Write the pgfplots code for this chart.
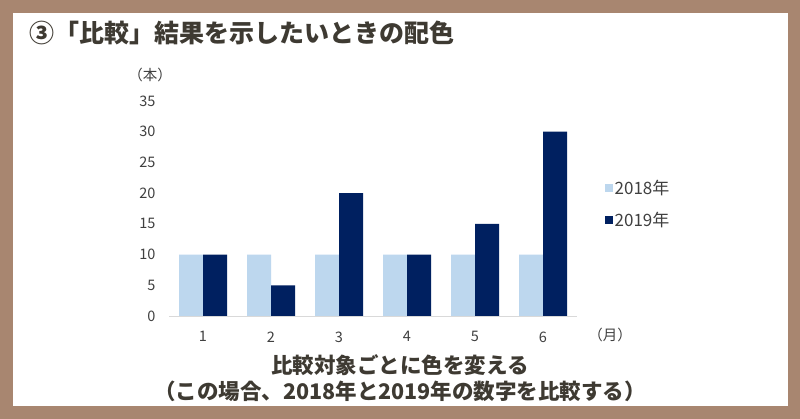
\documentclass[border=0pt]{standalone}
\usepackage{fontspec}
\setmainfont{Noto Sans CJK JP}
\usepackage{pgfplots}
\pgfplotsset{compat=1.18}
\definecolor{framec}{RGB}{168,134,112}
\definecolor{lightb}{RGB}{189,215,238}
\definecolor{navy}{RGB}{0,32,96}
\definecolor{titlec}{RGB}{62,58,50}
\definecolor{tickc}{RGB}{64,64,64}
\begin{document}
\begin{tikzpicture}[x=1pt,y=1pt]
\fill[framec] (0,0) rectangle (800,419);
\fill[white] (13,13) rectangle (788,406);
\node[anchor=west, font=\bfseries\fontsize{25}{29}\selectfont, text=titlec, inner sep=0] at (29,386) {③「比較」結果を示したいときの配色};
\begin{axis}[
  at={(169pt,103pt)}, anchor=south west, scale only axis,
  width=408pt, height=215pt,
  xmin=0.5, xmax=6.5, ymin=0, ymax=35,
  ybar=0pt, bar width=24pt,
  axis lines=left,
  x axis line style={-, draw=black!15, line width=0.8pt},
  y axis line style={draw=none},
  xtick={1,2,3,4,5,6}, ytick={0,5,10,15,20,25,30,35},
  major tick length=0pt,
  /pgf/number format/assume math mode=true,
  ticklabel style={font=\fontsize{14.5}{16}\selectfont, text=tickc},
  yticklabel style={xshift=-10pt},
  xticklabel style={yshift=-12pt},
  legend style={draw=none, fill=none, at={(1.06,0.52)}, anchor=west,
    font=\fontsize{17}{20}\selectfont, text=tickc, row sep=12pt},
  legend cell align=left,
  clip=false,
]
\addplot[fill=lightb, draw=none, legend image code/.code={\fill[lightb] (0pt,-4pt) rectangle (8pt,4pt);}]
  coordinates {(1,10) (2,10) (3,10) (4,10) (5,10) (6,10)};
\addplot[fill=navy, draw=none, legend image code/.code={\fill[navy] (0pt,-4pt) rectangle (8pt,4pt);}]
  coordinates {(1,10) (2,5) (3,20) (4,10) (5,15) (6,30)};
\legend{2018年,2019年}
\end{axis}
\node[font=\fontsize{14.5}{16}\selectfont, text=tickc] at (150,344) {（本）};
\node[font=\fontsize{14.5}{16}\selectfont, text=tickc] at (610,84) {（月）};
\node[font=\bfseries\fontsize{21.5}{24}\selectfont, text=titlec] at (400,54) {比較対象ごとに色を変える};
\node[font=\bfseries\fontsize{21.5}{24}\selectfont, text=titlec] at (400,28) {（この場合、2018年と2019年の数字を比較する）};
\end{tikzpicture}
\end{document}
